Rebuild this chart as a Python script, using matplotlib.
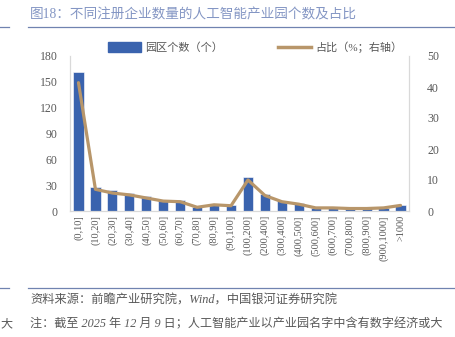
import numpy as np
import matplotlib.pyplot as plt
from matplotlib.lines import Line2D

plt.rcParams['font.family'] = ['Liberation Serif', 'Noto Sans CJK SC']

categories = ["(0,10]", "(10,20]", "(20,30]", "(30,40]", "(40,50]", "(50,60]", "(60,70]",
              "(70,80]", "(80,90]", "(90,100]", "(100,200]", "(200,400]", "(300,400]",
              "(400,500]", "(500,600]", "(600,700]", "(700,800]", "(800,900]",
              "(900,1000]", ">1000"]
park_counts = [161, 28, 24, 21, 17, 13, 13, 5, 8, 7, 40, 20, 12, 9, 4, 4, 3, 3, 4, 7]
share_pct = [41.4, 7.0, 5.8, 5.2, 4.2, 3.2, 3.0, 1.2, 2.0, 1.7, 10.0, 5.0, 3.0, 2.2,
             1.0, 1.0, 0.8, 0.8, 1.0, 1.8]

bar_color = "#3a63ae"
line_color = "#b8966a"
grey = "#595959"
spine_c = "#d9d9d9"

fig = plt.figure(figsize=(4.56, 3.37), dpi=100)
ax = fig.add_axes([70 / 456, 1 - 211 / 337, 339 / 456, 155 / 337])
ax2 = ax.twinx()

x = np.arange(len(categories))
ax.bar(x, park_counts, width=0.6, color=bar_color, edgecolor="white", linewidth=0.4,
       zorder=2)
ax2.plot(x, share_pct, color=line_color, linewidth=2.3, solid_capstyle="round", zorder=3)

ax.set_xlim(-0.5, len(categories) - 0.5)
ax.set_ylim(0, 180)
ax.set_yticks(range(0, 181, 30))
ax2.set_ylim(0, 50)
ax2.set_yticks(range(0, 51, 10))
ax.set_xticks(x)
ax.set_xticklabels(categories, rotation=90, fontsize=7.5, color=grey)

for a in (ax, ax2):
    a.spines["top"].set_visible(False)
    for s in ("left", "right", "bottom"):
        a.spines[s].set_color(spine_c)
        a.spines[s].set_linewidth(0.8)
    a.tick_params(length=0, labelsize=8.5, colors=grey)
ax.tick_params(axis="y", pad=9)
ax2.tick_params(axis="y", pad=13)
ax.tick_params(axis="x", pad=3, labelsize=7.5)
ax2.set_zorder(ax.get_zorder() + 1)

handles = [plt.Rectangle((0, 0), 1, 1, color=bar_color),
           Line2D([0], [0], color=line_color, linewidth=2.5)]
fig.legend(handles, ["园区个数（个）", "占比（%；右轴）"], loc="center",
           bbox_to_anchor=(255 / 456, 1 - 47 / 337), ncol=2, frameon=False,
           fontsize=8, handlelength=3.0, handleheight=0.9, columnspacing=5.0,
           handletextpad=0.3, labelcolor=grey)

title_c = "#8496c4"
rule_c = "#7083b0"
fig.text(30 / 456, 1 - 15 / 337, "图18：不同注册企业数量的人工智能产业园个数及占比",
         fontsize=9.8, color=title_c, va="center", ha="left")
fig.add_artist(Line2D([28 / 456, 1], [1 - 27 / 337] * 2, color=rule_c, linewidth=0.9))
fig.add_artist(Line2D([0, 9 / 456], [1 - 27 / 337] * 2, color=rule_c, linewidth=0.9))
fig.add_artist(Line2D([28 / 456, 1], [1 - 288 / 337] * 2, color=rule_c, linewidth=0.9))
fig.add_artist(Line2D([0, 9 / 456], [1 - 288 / 337] * 2, color=rule_c, linewidth=0.9))

fig.text(30 / 456, 1 - 301 / 337, "资料来源：前瞻产业研究院，Wind，中国银河证券研究院",
         fontsize=8.8, color=grey, style="italic", va="center", ha="left")
fig.text(30 / 456, 1 - 324 / 337,
         "注：截至 2025 年 12 月 9 日；人工智能产业以产业园名字中含有数字经济或大",
         fontsize=8.7, color=grey, style="italic", va="center", ha="left")
fig.text(0, 1 - 324 / 337, "大", fontsize=8.7, color=grey,
         va="center", ha="left")

fig.savefig("out.png", dpi=100)
